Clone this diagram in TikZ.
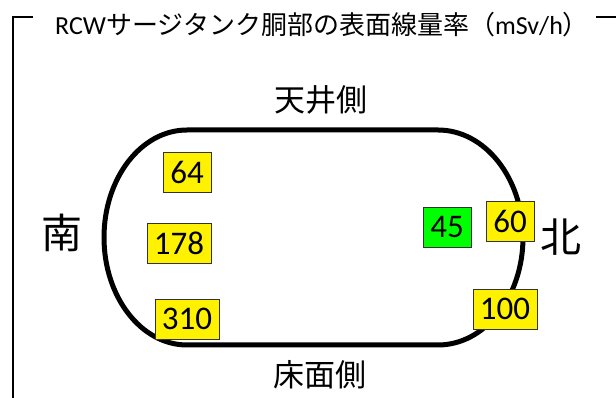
\documentclass[tikz,border=0pt]{standalone}
\usepackage{fontspec}
\setmainfont{Carlito}
\newfontfamily\cjk{Noto Sans CJK JP}
\newfontfamily\lat{Carlito}
\begin{document}
\begin{tikzpicture}[x=1pt,y=1pt,
  valbox/.style={draw=black!80,line width=0.8pt,fill=yellow,inner sep=0pt,
    minimum height=40pt,font=\lat\fontsize{33}{33}\selectfont},
  lbl/.style={inner sep=0pt,font=\cjk\fontsize{31}{31}\selectfont},
  big/.style={inner sep=0pt,font=\cjk\fontsize{41}{41}\selectfont},
  frameline/.style={line width=1.4pt,draw=black}]
\useasboundingbox (0,0) rectangle (616,398);
% frame
\coordinate (fa) at (33,381);
\coordinate (fb) at (13,381);
\coordinate (fc) at (13,0);
\coordinate (fd) at (596,381);
\coordinate (fe) at (616,381);
\path[frameline] (fa) -- (fb) -- (fc);
\path[frameline] (fd) -- (fe);
\node[anchor=west,inner sep=0pt] (title) at (55,373)
  {\fontsize{26}{26}\selectfont\lat RCW\cjk サージタンク胴部の表面線量率（\lat mSv/h\cjk ）};
% tank outline
\draw[line width=5pt] (187,268) -- (438,268)
  arc[start angle=90,end angle=-90,x radius=85,y radius=107.5]
  -- (187,53)
  arc[start angle=270,end angle=90,x radius=83,y radius=107.5] -- cycle;
% labels
\node[lbl] (top) at (321,298) {天井側};
\node[lbl] (bot) at (320,23) {床面側};
\node[big] (south) at (62,165) {南};
\node[big] (north) at (561,161) {北};
% values
\node[valbox,minimum width=48pt] (v64) at (187,226) {64};
\node[valbox,minimum width=64pt] (v178) at (179,154.5) {178};
\node[valbox,minimum width=64pt] (v310) at (187,79) {310};
\node[valbox,minimum width=48pt,fill={rgb,255:red,0;green,255;blue,0}] (v45) at (447,171) {45};
\node[valbox,minimum width=48pt] (v60) at (510,177) {60};
\node[valbox,minimum width=64pt] (v100) at (505,89) {100};
\end{tikzpicture}
\end{document}
